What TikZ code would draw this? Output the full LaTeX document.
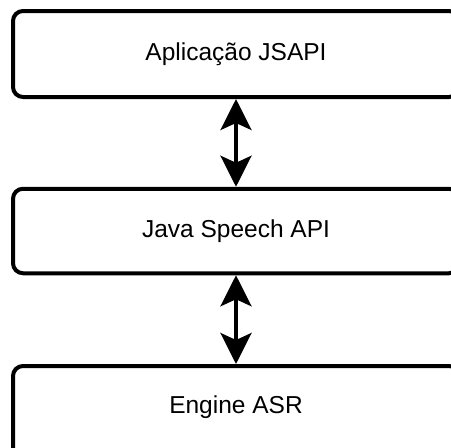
\documentclass[tikz,border=0pt]{standalone}
\usepackage{fontspec}
\setmainfont{Liberation Sans}
\usetikzlibrary{arrows.meta}

\tikzset{
  layerbox/.style={draw=black, line width=4pt, rounded corners=10pt,
    minimum width=446pt, inner sep=0pt, fill=white,
    font=\fontsize{24.5pt}{28pt}\selectfont},
  layertext/.style={inner sep=0pt, font=\fontsize{24.5pt}{28pt}\selectfont},
  duplex/.style={line width=3.5pt,
    {Stealth[length=31pt,width=31pt,inset=7pt]}-{Stealth[length=31pt,width=31pt,inset=7pt]}}
}

\begin{document}
\begin{tikzpicture}[x=1pt,y=-1pt]
  \useasboundingbox (0,0) rectangle (451,448);
  \clip (0,0) rectangle (451,448);

  % three stacked layers
  \node[layerbox, minimum height=86pt]   (app)    at (236,54)  {Aplicação JSAPI};
  \node[layerbox, minimum height=84.5pt] (jsapi)  at (236,231) {Java Speech API};
  \node[layerbox, minimum height=96pt]   (engine) at (236,414) {};
  \node[layertext] (enginetext) at (236,407) {Engine ASR};

  % two-way links between layers
  \draw[duplex] (app) -- (jsapi);
  \draw[duplex] (jsapi) -- (engine);
\end{tikzpicture}
\end{document}
